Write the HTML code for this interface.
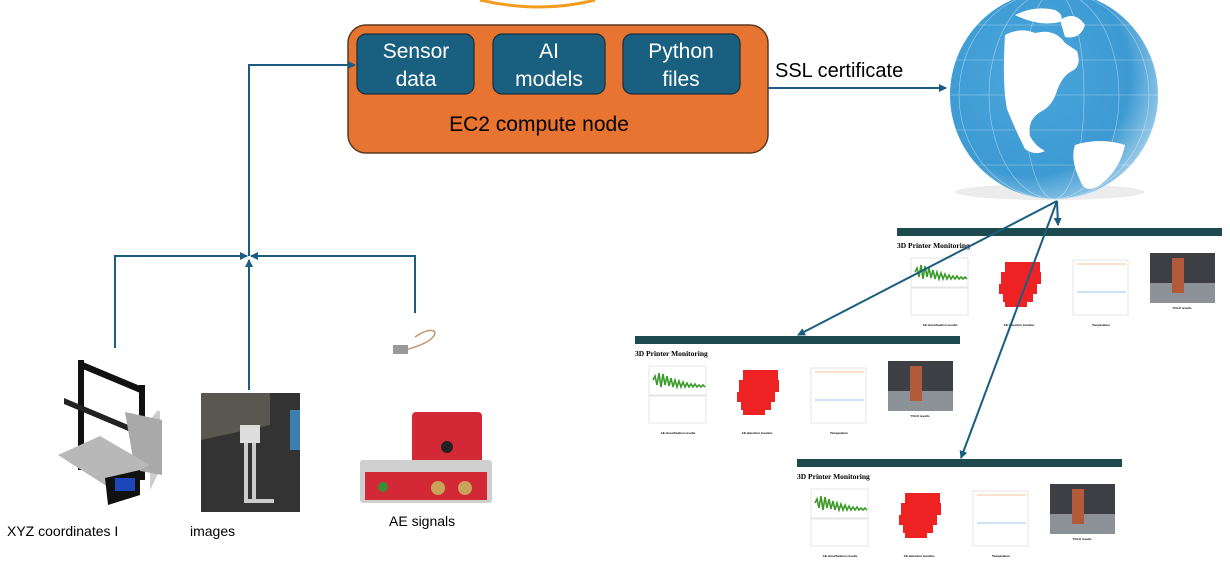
<!DOCTYPE html>
<html><head><style>
body{margin:0;width:1230px;height:570px;background:#fff;overflow:hidden;font-family:"Liberation Sans",sans-serif;position:relative}
.t{position:absolute;font-size:14px;color:#000}
</style></head><body>
<svg width="1230" height="570" style="position:absolute;left:0;top:0">
<defs>
<marker id="a" markerWidth="8" markerHeight="8" refX="7" refY="4" orient="auto" markerUnits="userSpaceOnUse"><path d="M0,0 L8,4 L0,8z" fill="#1a5d80"/></marker>
<radialGradient id="g" cx="0.38" cy="0.4" r="0.75"><stop offset="0" stop-color="#4aa6dc"/><stop offset="0.65" stop-color="#3d9ad2"/><stop offset="0.85" stop-color="#8cc3e6"/><stop offset="1" stop-color="#f2f2f2"/></radialGradient>
<clipPath id="gc"><circle cx="1054" cy="95" r="104"/></clipPath>
<g id="dash">
<rect x="0" y="0" width="325" height="8" fill="#1d4a4f"/>
<text x="0" y="20" font-family="Liberation Serif" font-weight="bold" font-size="7.5">3D Printer Monitoring</text>
<rect x="14" y="30" width="57" height="29" fill="#fff" stroke="#ccc" stroke-width="0.5"/>
<path d="M18,44 l2,-4 l2,9 l2,-12 l2,14 l2,-13 l2,11 l2,-9 l2,10 l2,-8 l2,9 l2,-7 l2,7 l2,-6 l2,6 l2,-5 l2,5 l2,-4 l2,4 l2,-3 l2,3 l2,-3 l2,3 l2,-2 l2,2 l2,-2 l2,2" stroke="#3c9a2a" stroke-width="1.6" fill="none"/>
<rect x="14" y="60" width="57" height="27" fill="#fff" stroke="#ccc" stroke-width="0.5"/>
<g fill="#e22">
<rect x="108" y="34" width="35" height="10"/><rect x="104" y="44" width="40" height="12"/><rect x="102" y="56" width="38" height="10"/><rect x="106" y="66" width="30" height="8"/><rect x="108" y="74" width="22" height="5"/>
</g>
<rect x="176" y="32" width="55" height="55" fill="#fff" stroke="#ccc" stroke-width="0.5"/>
<line x1="180" y1="36" x2="229" y2="36" stroke="#f3b07a" stroke-width="0.7"/>
<line x1="180" y1="64" x2="229" y2="64" stroke="#7ab0e0" stroke-width="0.7"/>
<rect x="253" y="25" width="65" height="50" fill="#3e3f44"/>
<rect x="253" y="55" width="65" height="20" fill="#8d9299"/>
<rect x="275" y="30" width="12" height="35" fill="#b35a3a"/>
<text x="43" y="98" font-size="3" text-anchor="middle" font-weight="bold">AE classification results</text>
<text x="122" y="98" font-size="3" text-anchor="middle" font-weight="bold">AE detection location</text>
<text x="204" y="98" font-size="3" text-anchor="middle" font-weight="bold">Temperature</text>
<text x="285" y="81" font-size="3" text-anchor="middle" font-weight="bold">YOLO results</text>
</g>
</defs>
<path d="M480,0 Q540,14 595,0" stroke="#f59b1d" stroke-width="3" fill="none"/>
<rect x="348" y="25" width="420" height="128" rx="18" fill="#e87431" stroke="#5a3a20" stroke-width="1.5"/>
<rect x="357" y="34" width="117" height="60" rx="9" fill="#195f80" stroke="#1d2f3a" stroke-width="1.2"/>
<rect x="493" y="34" width="112" height="60" rx="9" fill="#195f80" stroke="#1d2f3a" stroke-width="1.2"/>
<rect x="623" y="34" width="117" height="60" rx="9" fill="#195f80" stroke="#1d2f3a" stroke-width="1.2"/>
<g fill="#fff" font-size="21" text-anchor="middle">
<text x="416" y="58">Sensor</text><text x="416" y="86">data</text>
<text x="549" y="58">AI</text><text x="549" y="86">models</text>
<text x="681" y="58">Python</text><text x="681" y="86">files</text>
</g>
<text x="539" y="131" font-size="21" text-anchor="middle">EC2 compute node</text>
<text x="775" y="77" font-size="20">SSL certificate</text>
<ellipse cx="1050" cy="192" rx="95" ry="8" fill="#ececec"/>
<circle cx="1054" cy="95" r="104" fill="url(#g)"/>
<g clip-path="url(#gc)" fill="#fff">
<path d="M1005,35 q15,-8 30,-2 q20,-5 30,10 l12,8 q5,15 -5,20 q-10,5 -15,20 q-5,15 -15,20 q-15,8 -12,25 q5,10 15,15 q-10,5 -20,-2 q-10,-20 -18,-40 q-5,-25 -2,-74z"/>
<path d="M1015,15 q20,-10 40,-5 q10,5 5,12 q-20,5 -45,-7z"/>
<path d="M1060,20 q15,-10 25,5 q-5,15 -20,12z"/>
<path d="M1075,145 q25,-8 50,0 q-5,25 -25,40 q-15,10 -20,-5 q-10,-20 -5,-35z"/>
<path d="M1100,0 q50,15 60,80 l10,-80z"/>
<g stroke="#fff" stroke-width="0.6" fill="none" opacity="0.5">
<ellipse cx="1054" cy="95" rx="30" ry="104"/><ellipse cx="1054" cy="95" rx="65" ry="104"/><ellipse cx="1054" cy="95" rx="95" ry="104"/>
<line x1="950" y1="60" x2="1158" y2="60"/><line x1="950" y1="95" x2="1158" y2="95"/><line x1="950" y1="130" x2="1158" y2="130"/><line x1="950" y1="165" x2="1158" y2="165"/><line x1="950" y1="25" x2="1158" y2="25"/>
</g>
</g>
<use href="#dash" x="897" y="228"/>
<use href="#dash" x="635" y="336"/>
<use href="#dash" x="797" y="459"/>
<g stroke="#1a5d80" stroke-width="2" fill="none">
<line x1="768" y1="88" x2="946" y2="88" marker-end="url(#a)"/>
<polyline points="249,256 249,65 355,65" marker-end="url(#a)"/>
<polyline points="115,348 115,256 247,256" marker-end="url(#a)"/>
<polyline points="415,313 415,256 251,256" marker-end="url(#a)"/>
<line x1="249" y1="390" x2="249" y2="260" marker-end="url(#a)"/>
<line x1="1057" y1="201" x2="1058" y2="225" marker-end="url(#a)"/>
<line x1="1057" y1="201" x2="798" y2="335" marker-end="url(#a)"/>
<line x1="1057" y1="201" x2="961" y2="458" marker-end="url(#a)"/>
</g>
<!-- printer -->
<path d="M78,360 L145,388 L145,395 L78,367z" fill="#111"/>
<rect x="78" y="360" width="6" height="110" fill="#111"/>
<rect x="139" y="385" width="6" height="95" fill="#111"/>
<path d="M64,398 L145,432 L145,438 L64,404z" fill="#222"/>
<path d="M158,410 L160,412 L160,470 L150,490 L150,420z" fill="#ccc"/>
<path d="M125,412 L162,420 L162,475 L135,470z" fill="#a9a9a9"/>
<path d="M58,455 L100,436 L150,465 L108,487z" fill="#b8b8b8"/>
<path d="M105,478 L140,470 L140,495 L108,505z" fill="#111"/>
<rect x="115" y="478" width="20" height="13" fill="#1d46b8"/>
<!-- photo -->
<rect x="201" y="393" width="99" height="119" fill="#333"/>
<path d="M201,393 L270,393 L270,425 L201,440z" fill="#5a5650"/>
<rect x="290" y="410" width="10" height="40" fill="#3a7fb0"/>
<rect x="240" y="425" width="20" height="18" fill="#ddd"/>
<rect x="244" y="443" width="4" height="60" fill="#ccc"/>
<rect x="252" y="443" width="4" height="60" fill="#ccc"/>
<rect x="244" y="499" width="30" height="4" fill="#ccc"/>
<!-- cable -->
<path d="M405,350 q30,-8 30,-18 q-5,-5 -20,5" stroke="#c8946b" stroke-width="1.5" fill="none"/>
<rect x="393" y="345" width="15" height="9" fill="#999"/>
<!-- AE device -->
<rect x="412" y="412" width="70" height="53" rx="4" fill="#d32836"/>
<circle cx="447" cy="447" r="6" fill="#222"/>
<rect x="360" y="460" width="132" height="43" rx="3" fill="#cfcfcf"/>
<rect x="365" y="472" width="122" height="28" fill="#d32836"/>
<circle cx="438" cy="488" r="7" fill="#c9a25a"/>
<circle cx="465" cy="488" r="7" fill="#c9a25a"/>
<circle cx="383" cy="487" r="5" fill="#3a8a3a"/>
</svg>
<div class="t" style="left:7px;top:523px">XYZ coordinates I</div>
<div class="t" style="left:190px;top:523px">images</div>
<div class="t" style="left:389px;top:513px">AE signals</div>
</body></html>
